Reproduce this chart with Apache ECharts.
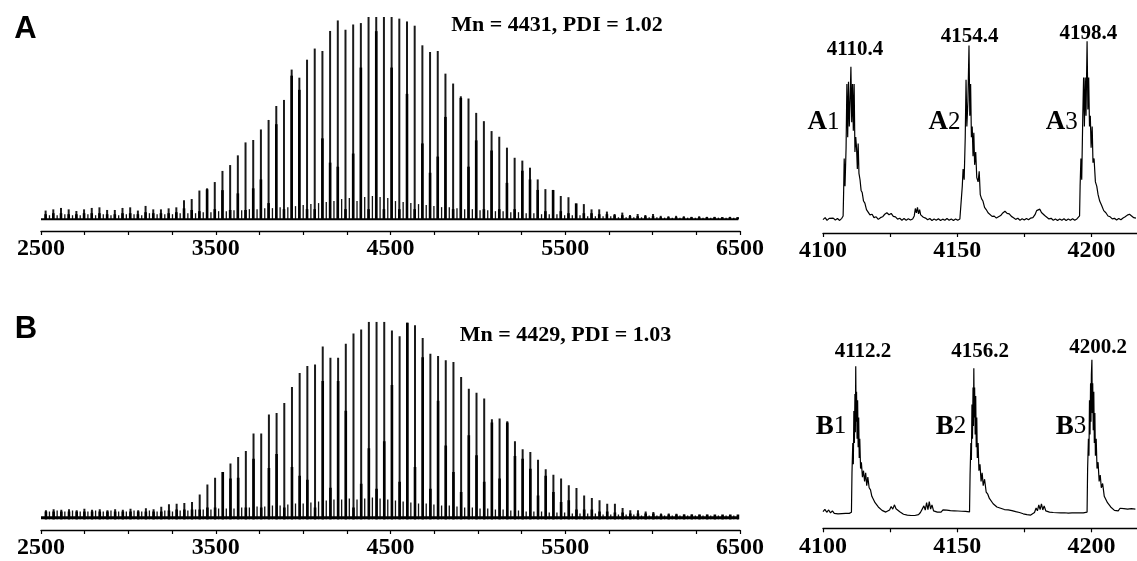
<!DOCTYPE html>
<html><head><meta charset="utf-8">
<script src="https://cdn.jsdelivr.net/npm/echarts@6/dist/echarts.min.js"></script>
<style>html,body{margin:0;padding:0;background:#fff}#c{width:1137px;height:561px}</style>
</head><body><div id="c"></div>
<script>
// ---------- DATA ----------
// left panels: m/z of the main peak series and relative intensities (%)
const massA = [2526.4,2570.4,2614.4,2658.4,2702.4,2746.4,2790.4,2834.4,2878.4,2922.4,2966.4,3010.4,3054.4,3098.4,3142.4,3186.4,3230.4,3274.4,3318.4,3362.4,3406.4,3450.4,3494.4,3538.4,3582.4,3626.4,3670.4,3714.4,3758.4,3802.4,3846.4,3890.4,3934.4,3978.4,4022.4,4066.4,4110.4,4154.4,4198.4,4242.4,4286.4,4330.4,4374.4,4418.4,4462.4,4506.4,4550.4,4594.4,4638.4,4682.4,4726.4,4770.4,4814.4,4858.4,4902.4,4946.4,4990.4,5034.4,5078.4,5122.4,5166.4,5210.4,5254.4,5298.4,5342.4,5386.4,5430.4,5474.4,5518.4,5562.4,5606.4,5650.4,5694.4,5738.4,5782.4,5826.4,5870.4,5914.4,5958.4,6002.4,6046.4,6090.4,6134.4,6178.4,6222.4,6266.4,6310.4,6354.4,6398.4,6442.4,6486.4];
const mainA = [4.3,4.9,5.6,4.9,4.1,4.9,5.6,5.9,4.6,4.6,5.6,5.9,4.3,6.6,4.9,4.9,5.4,5.9,
  9.4,10.0,14.2,15.3,18.4,23.9,26.8,31.6,38.0,39.2,44.4,49.1,56.0,59.0,74.0,70.0,78.9,84.4,
  83.2,93.1,98.3,93.7,96.3,97.0,100,100,100,100,99.2,97.8,95.7,
  86.0,82.7,83.2,72.0,67.1,60.8,59.7,52.6,48.5,43.6,40.8,35.4,30.4,29.0,25.5,19.7,14.9,14.2,11.5,10.9,7.5,7.5,4.9,4.9,3.8,2.6,3.3,2.1,2.6,2.1,2.6,
  1.7,1.5,1.7,1.5,1.2,1.5,1.2,1.2,1.0,1.2,1.0];
const innerA = [2.5,3,3,2.5,2.5,3,3,3,2.5,2.5,3,3,2.5,3.5,3,3,3,3.5,
  5.4,4.6,4,14.8,5,14.4,4.6,12.8,4.6,15.3,19.7,8,47,5,71,64,5,5,
  40,28,26,5,32.5,75,5,93,5,75,5,62,5,
  37.5,23,31,50.6,5,60,26,39,5,34,5,18,5,24,19.7,14.5,4,14.5,4,3,7.9,3,3,2.5,2.5,2,2,1.5,1.5,1.5,1.5,
  1,1,1,1,1,1,1,1,1,1,1];
const massB = [2528.2,2572.2,2616.2,2660.2,2704.2,2748.2,2792.2,2836.2,2880.2,2924.2,2968.2,3012.2,3056.2,3100.2,3144.2,3188.2,3232.2,3276.2,3320.2,3364.2,3408.2,3452.2,3496.2,3540.2,3584.2,3628.2,3672.2,3716.2,3760.2,3804.2,3848.2,3892.2,3936.2,3980.2,4024.2,4068.2,4112.2,4156.2,4200.2,4244.2,4288.2,4332.2,4376.2,4420.2,4464.2,4508.2,4552.2,4596.2,4640.2,4684.2,4728.2,4772.2,4816.2,4860.2,4904.2,4948.2,4992.2,5036.2,5080.2,5124.2,5168.2,5212.2,5256.2,5300.2,5344.2,5388.2,5432.2,5476.2,5520.2,5564.2,5608.2,5652.2,5696.2,5740.2,5784.2,5828.2,5872.2,5916.2,5960.2,6004.2,6048.2,6092.2,6136.2,6180.2,6224.2,6268.2,6312.2,6356.2,6400.2,6444.2,6488.2];
const mainB = [4.6,5.1,4.8,5.1,4.6,5.3,4.8,5.1,4.6,5.1,4.8,5.3,4.6,5.6,
  5.1,6.4,7.6,
  7.9,8.2,8.8,12.5,17.6,21.1,23.9,28.2,31.5,34.6,43.4,43.4,53.1,53.8,58.8,66.9,74.0,77.6,78.3,
  87.5,81.8,81.8,88.9,94.0,96.1,100,100,100,95.6,92.6,99.5,98.2,
  91.7,83.8,82.6,80.5,79.6,72.0,66.1,64.1,61.1,50.6,51.0,49.6,39.5,35.4,34.1,30.2,25.3,22.6,20.6,17.2,15.8,12.1,10.8,9.6,7.9,7.9,5.7,4.6,4.6,4.0,3.7,
  3.0,3.0,2.8,2.5,2.5,2.3,2.3,2.0,2.0,2.0,2.0];
const innerB = [4,4,4,4,4,4,4,4,4,4,4,4,4,4,4,4,4.5,
  5,5,5,5,6,6,24,20.6,21,6,30.7,6,26,33,6,26.5,22,20,6,
  70,16,70,55,6,18,36,15.5,39.5,68,19,99.5,26.5,
  82,15.5,60,37.4,24,13.8,42.5,32.4,19,49,20.6,49,32,30.7,25.6,12,22,13.8,8.8,9.6,5,5,5,4,4,3.5,3.5,3,3,3,3,
  2.5,2.5,2.5,2.5,2.5,2.5,2.5,2.5,2.5,2.5,2.5];
// minor series lying between the main peaks
const midMass = [2548.4,2592.4,2636.4,2680.4,2724.4,2768.4,2812.4,2856.4,2900.4,2944.4,2988.4,3032.4,3076.4,3120.4,3164.4,3208.4,3252.4,3296.4,3340.4,3384.4,3428.4,3472.4,3516.4,3560.4,3604.4,3648.4,3692.4,3736.4,3780.4,3824.4,3868.4,3912.4,3956.4,4000.4,4044.4,4088.4,4132.4,4176.4,4220.4,4264.4,4308.4,4352.4,4396.4,4440.4,4484.4,4528.4,4572.4,4616.4,4660.4,4704.4,4748.4,4792.4,4836.4,4880.4,4924.4,4968.4,5012.4,5056.4,5100.4,5144.4,5188.4,5232.4,5276.4,5320.4,5364.4,5408.4,5452.4,5496.4,5540.4,5584.4,5628.4,5672.4,5716.4,5760.4,5804.4,5848.4,5892.4,5936.4,5980.4,6024.4,6068.4,6112.4,6156.4,6200.4,6244.4,6288.4,6332.4,6376.4,6420.4,6464.4];
const midA = [2,2,2.5,2,2,2.5,2,2.5,2,2,2.5,2.5,2,3,2.5,2.5,2.5,3,
  3,3,3.5,3.5,4,4,4.5,4.5,5,5,5.5,5.5,6,6,6.5,7,7.5,8,
  8.5,9,10,10.5,9,11,11.5,11,10.5,9,8.5,8,7.5,
  7,6.5,6,6,5.5,5,5,4.5,4.5,4,4,3.5,3.5,3,3,2.5,2.5,2.5,2,2,2,1.5,1.5,1.5,1.5,1,1,1,1,1,1,
  0.8,0.8,0.8,0.8,0.8,0.8,0.8,0.8,0.8,0.8];
const midB = [4,4.5,4,4.5,4,4,4.5,4,4.5,4,4,4.5,4,4.5,4,4.5,4,
  4.5,4.5,5,5,5,5.5,5.5,5.5,6,6,6.5,6.5,7,7,7.5,8,8,8.5,9,
  9.5,10,10,10.5,10,10.5,11,10.5,10,9.5,9,8.5,8,
  8,7.5,7,7,6.5,6,6,5.5,5.5,5,5,4.5,4.5,4,4,4,3.5,3.5,3.5,3,3,3,3,2.5,2.5,2.5,2.5,2.5,2,2,2,
  2,2,2,2,2,2,2,2,2,2];
const baselineA = [[2500,0],[6490,0]];
const baselineB = [[2500,0.8],[6490,0.8]];

// right panels: zoomed profiles [m/z, intensity]
const profA = [[4100,6.3],[4100.8,7.2],[4101.5,5.9],[4102.3,6.9],[4103,6.0],[4103.8,7.0],[4104.6,6.1],[4105.4,6.8],[4106.2,5.9],[4107,6.9],[4107.5,8],
 [4107.7,20],[4107.9,35],[4108.2,22],[4108.6,40],[4108.9,70],[4109.2,45],[4109.5,71],[4109.8,50],[4110.1,62],[4110.4,78],[4110.7,52],[4111.0,70],[4111.3,48],[4111.6,70],[4111.9,38],[4112.2,45],[4112.5,40],[4112.8,30],[4113.1,42],[4113.4,28],[4113.8,25],[4114.2,20],[4114.6,19],[4115.1,15],[4115.6,14],[4116.2,11],[4116.8,10.5],[4117.5,8.5],[4118.3,8.8],[4119,7.2],[4119.8,7.6],[4120.6,6.4],[4121.4,7.2],[4122.2,7.6],[4123,8.8],[4123.8,9.5],[4124.6,8.6],[4125.4,9.2],[4126.2,7.8],[4127,7.6],[4127.8,6.5],[4128.6,6.9],[4129.4,6.0],[4130.2,6.8],[4131,6.0],[4131.8,6.7],[4132.6,6.1],[4133.4,6.6],[4134,8],[4134.4,11.5],[4134.8,9.5],[4135.2,12],[4135.6,9],[4136,11],[4136.4,8.5],[4136.9,9],[4137.4,7.4],[4138.2,7],[4139,6.2],[4139.8,6.8],[4140.6,5.9],[4141.4,6.6],[4142.2,6.0],[4143,6.7],[4143.8,5.9],[4144.6,6.5],[4145.4,6.0],[4146.2,6.8],[4147,6.0],[4147.8,6.6],[4148.6,5.9],[4149.4,6.6],[4150.2,6.0],[4151,6.6],[4151.6,7.5],
 [4151.9,22],[4152.2,30],[4152.6,25],[4153.0,45],[4153.3,72],[4153.6,50],[4154.0,62],[4154.4,88],[4154.7,55],[4155.0,70],[4155.3,45],[4155.6,50],[4155.9,36],[4156.2,47],[4156.5,32],[4156.9,38],[4157.3,26],[4157.8,24],[4158.2,29],[4158.6,18],[4159.1,16],[4159.6,15],[4160.2,12],[4160.8,11],[4161.5,9.5],[4162.2,9],[4163,7.8],[4163.8,7.9],[4164.6,7.0],[4165.4,7.6],[4166.2,8.2],[4167,9.4],[4167.8,10.2],[4168.6,9.2],[4169.4,9.0],[4170.2,7.8],[4171,7.2],[4171.8,6.4],[4172.6,6.9],[4173.4,6.0],[4174.2,6.7],[4175,6.1],[4175.8,6.8],[4176.6,6.2],[4177.4,7.0],[4178.2,7.2],[4179,8.6],[4179.6,10.5],[4180.2,10],[4180.8,11.2],[4181.4,9.6],[4182,9.8],[4182.6,8.2],[4183.4,7.4],[4184.2,6.6],[4185,6.9],[4185.8,6.0],[4186.6,6.6],[4187.4,5.9],[4188.2,6.6],[4189,6.0],[4189.8,6.7],[4190.6,5.9],[4191.4,6.6],[4192.2,6.0],[4193,6.7],[4193.8,6.0],[4194.6,6.6],[4195.3,6.3],[4195.6,8],
 [4195.8,22],[4196.1,35],[4196.4,25],[4196.8,55],[4197.1,73],[4197.4,50],[4197.7,73],[4198.0,55],[4198.4,90],[4198.7,58],[4199.0,73],[4199.3,50],[4199.6,55],[4199.9,40],[4200.3,50],[4200.6,33],[4201.0,35],[4201.5,24],[4202.0,22],[4202.5,18],[4203.1,15],[4203.8,13],[4204.6,10.5],[4205.4,9.5],[4206.2,8],[4207,7.6],[4207.8,6.6],[4208.6,6.9],[4209.4,6.1],[4210.2,6.8],[4211,6.2],[4211.8,7.0],[4212.6,7.6],[4213.4,8.4],[4214.2,8.8],[4215,8.0],[4215.8,7.2],[4216.6,7.0]];
const profB = [[4100,7.8],[4100.7,8.9],[4101.4,7.5],[4102.1,8.6],[4102.8,7.2],[4103.5,8.2],[4104.2,7.0],[4104.9,7.8],[4105.6,6.8],[4106.3,7.6],[4107,6.9],[4107.7,7.8],[4108.4,7.0],[4109.1,7.7],[4109.8,7.0],[4110.6,7.5],
 [4110.8,26],[4111.1,40],[4111.3,30],[4111.5,55],[4111.7,40],[4111.9,63],[4112.05,45],[4112.2,76],[4112.35,50],[4112.5,64],[4112.7,42],[4112.9,60],[4113.1,38],[4113.3,52],[4113.5,33],[4113.7,42],[4114.0,28],[4114.3,31],[4114.7,24],[4115.1,27],[4115.5,22],[4115.9,26],[4116.3,20],[4116.7,24],[4117.2,19],[4117.7,18],[4118.2,15],[4118.8,14.5],[4119.4,12],[4120,12],[4120.6,10],[4121.3,9.6],[4122,8.4],[4122.7,8.2],[4123.4,7.6],[4124.1,8.2],[4124.8,8.6],[4125.4,10.2],[4126,9],[4126.6,11],[4127.2,9.2],[4127.9,9],[4128.6,7.8],[4129.3,7.4],[4130,6.6],[4130.7,7.0],[4131.4,6.2],[4132.1,6.8],[4132.8,6.0],[4133.5,6.6],[4134.2,6.0],[4134.9,6.8],[4135.6,6.4],[4136.3,7.4],[4137,7.8],[4137.6,10.5],[4138.1,8.5],[4138.6,12],[4139.1,8.8],[4139.6,12.5],[4140.1,9],[4140.6,11],[4141.2,8.2],[4141.9,8.6],[4142.6,7.6],[4143.3,8.4],[4144,7.6],[4144.7,8.6],[4145.4,7.7],[4146.1,8.5],[4146.8,7.6],[4147.5,8.3],[4148.2,7.5],[4148.9,8.2],[4149.6,7.4],[4150.3,8.1],[4151,7.5],[4151.7,8.0],[4152.4,7.3],[4153.1,7.9],[4153.8,7.4],[4154.6,7.7],
 [4154.8,25],[4155.1,40],[4155.3,32],[4155.5,58],[4155.7,42],[4155.9,66],[4156.05,48],[4156.2,75],[4156.35,52],[4156.5,66],[4156.7,44],[4156.9,62],[4157.1,38],[4157.3,52],[4157.5,33],[4157.8,40],[4158.1,27],[4158.5,30],[4158.9,22],[4159.3,26],[4159.7,20],[4160.2,23],[4160.8,17],[4161.4,16],[4162,14],[4162.7,13.5],[4163.4,11.5],[4164.1,11.2],[4164.8,10],[4165.5,10.4],[4166.2,9.4],[4166.9,9.8],[4167.6,8.8],[4168.3,9.4],[4169,8.6],[4169.7,9.2],[4170.4,8.3],[4171.1,8.8],[4171.8,7.8],[4172.5,8.2],[4173.2,7.4],[4173.9,7.6],[4174.6,6.8],[4175.3,7.2],[4176,6.4],[4176.7,6.9],[4177.4,6.2],[4178.1,6.8],[4178.8,7.4],[4179.4,9.5],[4179.9,8.2],[4180.4,11],[4180.9,8.8],[4181.4,11.5],[4181.9,8.6],[4182.4,10.5],[4183,8.2],[4183.7,8.4],[4184.4,7.6],[4185.1,8.2],[4185.8,7.4],[4186.5,8.0],[4187.2,7.3],[4187.9,7.9],[4188.6,7.2],[4189.3,7.9],[4190,7.3],[4190.7,7.8],[4191.4,7.1],[4192.1,7.8],[4192.8,7.2],[4193.5,7.9],[4194.2,7.3],[4194.9,7.9],[4195.6,7.2],[4196.3,7.8],[4197,7.2],[4197.7,7.8],[4198.4,7.6],
 [4198.6,28],[4198.9,42],[4199.1,34],[4199.3,60],[4199.5,44],[4199.7,68],[4199.85,50],[4200.0,72],[4200.2,79],[4200.35,54],[4200.5,68],[4200.7,46],[4200.9,64],[4201.1,40],[4201.3,54],[4201.5,34],[4201.8,42],[4202.1,28],[4202.5,31],[4202.9,22],[4203.3,25],[4203.7,19],[4204.2,21],[4204.8,15],[4205.4,15.5],[4206,12],[4206.6,12.5],[4207.2,10],[4207.9,9.4],[4208.6,8.4],[4209.3,8.8],[4210,8.2],[4210.7,9.4],[4211.4,8.6],[4212.1,9.2],[4212.8,8.4],[4213.5,9.0],[4214.2,8.4],[4214.9,9.2],[4215.6,8.6],[4216.4,9.0]];

// tick values and tick labels
const ticksLeft = [2500,2750,3000,3250,3500,3750,4000,4250,4500,4750,5000,5250,5500,5750,6000,6250,6500];
const labelsLeft = [2500,3500,4500,5500,6500];
const ticksRight = [4100,4125,4150,4175,4200];
const labelsRight = [4100,4150,4200];

// annotations (text, m/z, intensity of the text centre)
const peakLabelsA = [['4110.4',4111.9,85.9],['4154.4',4154.6,92.4],['4198.4',4198.9,93.5]];
const peakLabelsB = [['4112.2',4114.9,82.8],['4156.2',4158.5,82.8],['4200.2',4202.5,84.6]];
const clusterLabelsA = [['A','1',4100.2,51.9],['A','2',4145.3,51.9],['A','3',4189.0,51.9]];
const clusterLabelsB = [['B','1',4103.0,47.6],['B','2',4147.7,47.6],['B','3',4192.4,47.6]];

// ---------- CHART ----------
const SERIF = 'Liberation Serif, Times New Roman, serif';
const chart = echarts.init(document.getElementById('c'), null, {renderer:'canvas'});

function pairs(xs, ys){ return xs.map((x,i)=>[x, ys[i]]); }
function stickSeries(xi, data, width, color, z){
  return {type:'custom', xAxisIndex:xi, yAxisIndex:xi, data:data, clip:true, z:z, silent:true,
    renderItem:function(params, api){
      const p0 = api.coord([api.value(0), 0]);
      const p1 = api.coord([api.value(0), api.value(1)]);
      return {type:'line', shape:{x1:p0[0], y1:p0[1], x2:p1[0], y2:p1[1]},
              style:{stroke:color, lineWidth:width}};
    }};
}
function xAx(grid, min, max, ticks, labels){
  return {type:'value', gridIndex:grid, min:min, max:max,
    axisLine:{show:true, onZero:false, lineStyle:{color:'#000', width:1.3}},
    axisTick:{show:true, length:4, inside:false, customValues:ticks, lineStyle:{color:'#000', width:1.2}},
    axisLabel:{show:true, customValues:labels, formatter:v=>String(v), margin:6, color:'#000',
      fontFamily:SERIF, fontWeight:'bold', fontSize:24},
    splitLine:{show:false}};
}
function yAx(grid, min){
  return {type:'value', gridIndex:grid, min:min, max:100, show:false, splitLine:{show:false}};
}

const option = {
  animation:false,
  backgroundColor:'#fff',
  grid:[
    {left:41, width:699, top:17, height:214},
    {left:823, width:314, top:20, height:213},
    {left:41, width:699, top:321.7, height:208.3},
    {left:823, width:314, top:315, height:213.3}
  ],
  xAxis:[
    xAx(0, 2500, 6500, ticksLeft, labelsLeft),
    xAx(1, 4100, 4217, ticksRight, labelsRight),
    xAx(2, 2500, 6500, ticksLeft, labelsLeft),
    xAx(3, 4100, 4217, ticksRight, labelsRight)
  ],
  yAxis:[yAx(0,-5.8), yAx(1,0), yAx(2,-5.4), yAx(3,0)],
  series:[
    {type:'line', xAxisIndex:0, yAxisIndex:0, data:baselineA, showSymbol:false, lineStyle:{color:'#000', width:2}, silent:true},
    stickSeries(0, pairs(midMass, midA), 1.3, '#111', 2),
    stickSeries(0, pairs(massA, mainA), 2.0, '#1a1a1a', 3),
    stickSeries(0, pairs(massA, innerA), 2.6, '#000', 4),
    {type:'line', xAxisIndex:2, yAxisIndex:2, data:baselineB, showSymbol:false, lineStyle:{color:'#000', width:3}, silent:true},
    stickSeries(2, pairs(midMass, midB), 1.3, '#111', 2),
    stickSeries(2, pairs(massB, mainB), 2.0, '#1a1a1a', 3),
    stickSeries(2, pairs(massB, innerB), 2.6, '#000', 4),
    {type:'line', xAxisIndex:1, yAxisIndex:1, data:profA, showSymbol:false, clip:true, lineStyle:{color:'#000', width:1.2}, silent:true},
    {type:'line', xAxisIndex:3, yAxisIndex:3, data:profB, showSymbol:false, clip:true, lineStyle:{color:'#000', width:1.2}, silent:true}
  ]
};
chart.setOption(option);

// text annotations placed through the library's own coordinate conversion
const graphics = [
  {type:'text', x:25.5, y:29.5, style:{text:'A', font:'bold 31px Liberation Sans, Arial, sans-serif', fill:'#000', align:'center', verticalAlign:'middle'}},
  {type:'text', x:26, y:329, style:{text:'B', font:'bold 31px Liberation Sans, Arial, sans-serif', fill:'#000', align:'center', verticalAlign:'middle'}},
  {type:'text', x:557, y:25.5, style:{text:'Mn = 4431, PDI = 1.02', font:'bold 22px Liberation Serif, serif', fill:'#000', align:'center', verticalAlign:'middle'}},
  {type:'text', x:565.5, y:335, style:{text:'Mn = 4429, PDI = 1.03', font:'bold 22px Liberation Serif, serif', fill:'#000', align:'center', verticalAlign:'middle'}}
];
function addPeakLabels(idx, items){
  items.forEach(d=>{
    const p = chart.convertToPixel({xAxisIndex:idx, yAxisIndex:idx}, [d[1], d[2]]);
    graphics.push({type:'text', x:p[0], y:p[1], z:100,
      style:{text:d[0], font:'bold 21px Liberation Serif, serif', fill:'#000', align:'center', verticalAlign:'middle'}});
  });
}
function addClusterLabels(idx, items){
  items.forEach(d=>{
    const p = chart.convertToPixel({xAxisIndex:idx, yAxisIndex:idx}, [d[2], d[3]]);
    graphics.push({type:'text', x:p[0], y:p[1], z:100,
      style:{text:'{a|'+d[0]+'}{s|'+d[1]+'}', align:'center', verticalAlign:'middle', fill:'#000',
        rich:{a:{font:'bold 27px Liberation Serif, serif', fill:'#000'},
              s:{font:'25px Liberation Serif, serif', fill:'#000'}}}});
  });
}
addPeakLabels(1, peakLabelsA); addPeakLabels(3, peakLabelsB);
addClusterLabels(1, clusterLabelsA); addClusterLabels(3, clusterLabelsB);
chart.setOption({graphic:graphics});
</script></body></html>
